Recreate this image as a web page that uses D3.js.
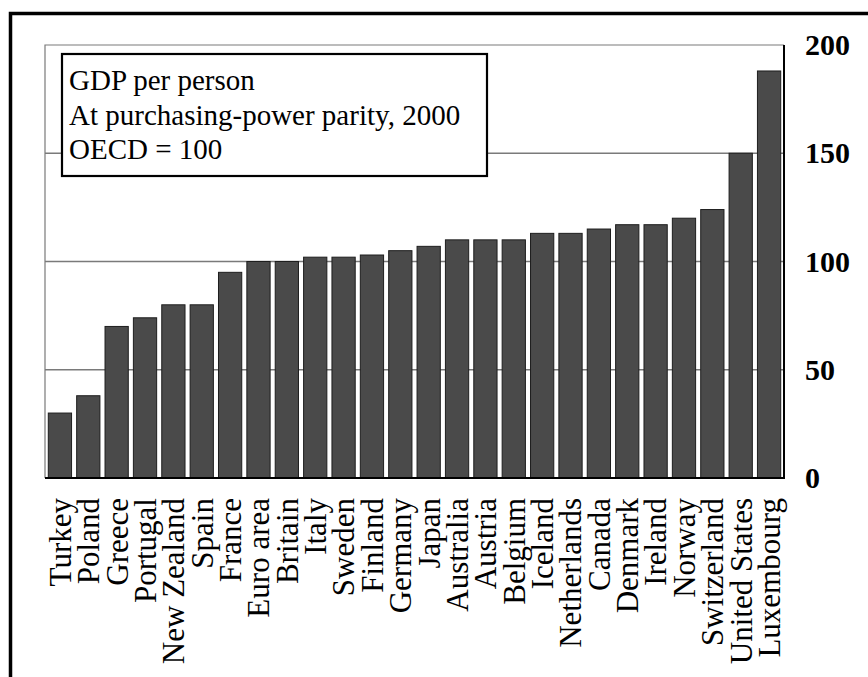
<!DOCTYPE html>
<html>
<head>
<meta charset="utf-8">
<script src="https://cdn.jsdelivr.net/npm/d3@7"></script>
<style>
  body { margin: 0; background: #fff; }
  svg { display: block; font-family: "Liberation Serif", "Times New Roman", serif; }
</style>
</head>
<body>
<svg width="868" height="677"></svg>
<script>
// data
const countries = ["Turkey", "Poland", "Greece", "Portugal", "New Zealand", "Spain", "France",
  "Euro area", "Britain", "Italy", "Sweden", "Finland", "Germany", "Japan", "Australia",
  "Austria", "Belgium", "Iceland", "Netherlands", "Canada", "Denmark", "Ireland", "Norway",
  "Switzerland", "United States", "Luxembourg"];
const gdpIndex = [30, 38, 70, 74, 80, 80, 95, 100, 100, 102, 102, 103, 105, 107, 110,
  110, 110, 113, 113, 115, 117, 117, 120, 124, 150, 188];
const yTicks = [0, 50, 100, 150, 200];
const titleLines = ["GDP per person", "At purchasing-power parity, 2000", "OECD = 100"];

const data = countries.map((c, i) => ({ name: c, value: gdpIndex[i] }));

const PLOT = { left: 45, right: 784, top: 45, bottom: 478 };

const svg = d3.select('svg');

// outer frame (only left + top edges show)
svg.append('path')
  .attr('d', 'M10.5,677 V13.5 H868')
  .attr('fill', 'none')
  .attr('stroke', '#000')
  .attr('stroke-width', 3.5);

const x = d3.scaleBand()
  .domain(countries)
  .range([PLOT.left, PLOT.right])
  .paddingInner(0.18)
  .paddingOuter(0.116);

const y = d3.scaleLinear().domain([0, 200]).range([PLOT.bottom, PLOT.top]);

// plot frame, top + left thin grey
svg.append('path')
  .attr('d', `M${PLOT.left},${PLOT.bottom} V${PLOT.top} H${PLOT.right}`)
  .attr('fill', 'none')
  .attr('stroke', '#7a7a7a')
  .attr('stroke-width', 1.2);

// gridlines
svg.append('g')
  .selectAll('line')
  .data(yTicks.filter(t => t > 0 && t < 200))
  .join('line')
  .attr('x1', PLOT.left)
  .attr('x2', PLOT.right)
  .attr('y1', d => y(d))
  .attr('y2', d => y(d))
  .attr('stroke', '#7a7a7a')
  .attr('stroke-width', 1.5);

// legend / title box
const legend = svg.append('g');
legend.append('rect')
  .attr('x', 62).attr('y', 54)
  .attr('width', 425).attr('height', 122)
  .attr('fill', '#fff')
  .attr('stroke', '#000')
  .attr('stroke-width', 2.2);
legend.selectAll('text')
  .data(titleLines)
  .join('text')
  .attr('x', 69)
  .attr('y', (d, i) => 90 + i * 34.5)
  .attr('font-size', 29)
  .attr('fill', '#000')
  .text(d => d);

// bars
svg.append('g')
  .selectAll('rect')
  .data(data)
  .join('rect')
  .attr('x', d => x(d.name))
  .attr('width', x.bandwidth())
  .attr('y', d => y(d.value))
  .attr('height', d => y(0) - y(d.value))
  .attr('fill', '#4a4a4a')
  .attr('stroke', '#1e1e1e')
  .attr('stroke-width', 1);

// right axis line + bottom axis line
svg.append('line')
  .attr('x1', PLOT.right).attr('x2', PLOT.right)
  .attr('y1', PLOT.top).attr('y2', PLOT.bottom + 1)
  .attr('stroke', '#000').attr('stroke-width', 2);
svg.append('line')
  .attr('x1', PLOT.left).attr('x2', PLOT.right + 1)
  .attr('y1', PLOT.bottom).attr('y2', PLOT.bottom)
  .attr('stroke', '#000').attr('stroke-width', 2.2);

// right axis labels
const yAxis = svg.append('g')
  .attr('transform', `translate(${PLOT.right},0)`)
  .call(d3.axisRight(y).tickValues(yTicks).tickSize(0).tickPadding(21));
yAxis.select('.domain').remove();
yAxis.selectAll('text')
  .attr('font-family', '"Liberation Serif", "Times New Roman", serif')
  .attr('font-size', 30)
  .attr('font-weight', 'bold')
  .attr('fill', '#000');

// country labels, rotated
const xAxis = svg.append('g')
  .attr('transform', `translate(0,${PLOT.bottom})`)
  .call(d3.axisBottom(x).tickSize(0).tickPadding(0));
xAxis.select('.domain').remove();
xAxis.selectAll('text')
  .attr('font-family', '"Liberation Serif", "Times New Roman", serif')
  .attr('font-size', 31)
  .attr('fill', '#000')
  .attr('text-anchor', 'end')
  .attr('transform', 'rotate(-90)')
  .attr('x', -20)
  .attr('y', 0)
  .attr('dy', '0.35em');
</script>
</body>
</html>
